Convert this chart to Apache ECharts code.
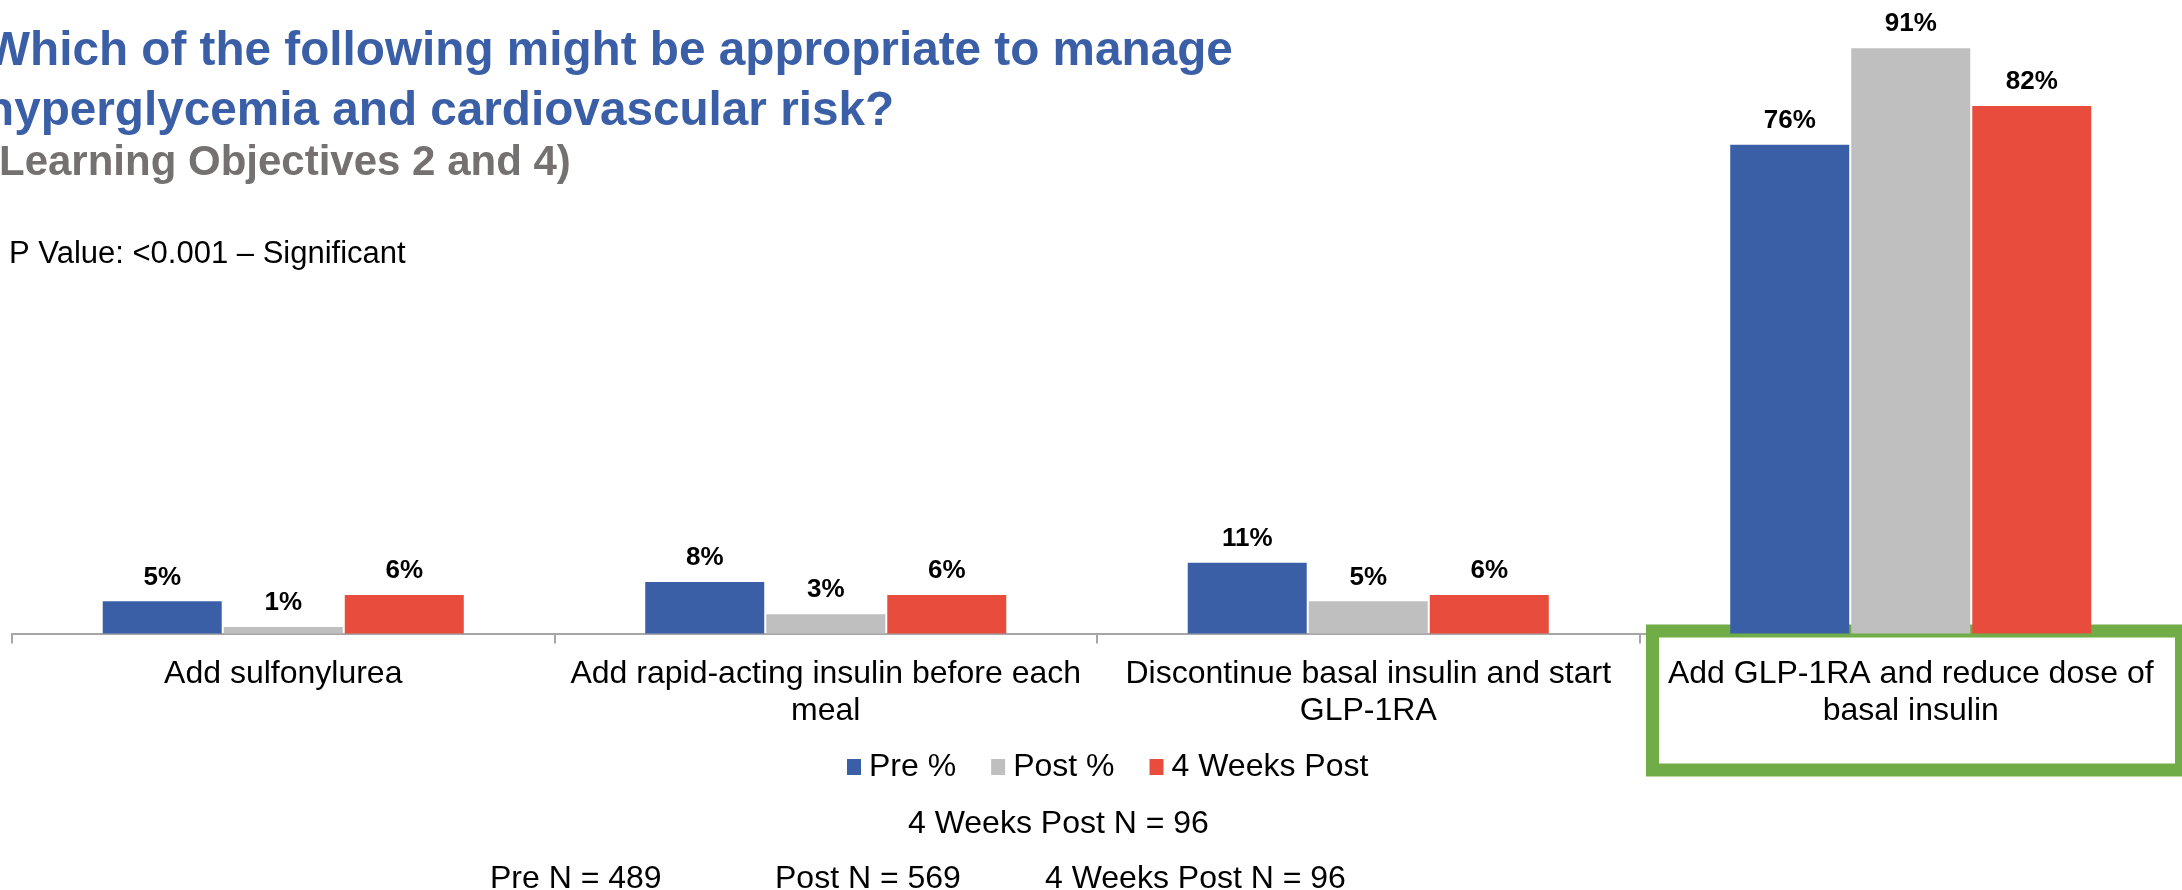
<!DOCTYPE html>
<html>
<head>
<meta charset="utf-8">
<title>Hyperglycemia and cardiovascular risk</title>
<script src="https://cdn.jsdelivr.net/npm/echarts@6/dist/echarts.min.js"></script>
<style>
  html, body { margin: 0; padding: 0; background: #ffffff; }
  #chart { width: 2182px; height: 890px; }
</style>
</head>
<body>
<div id="chart"></div>
<script>
// Answer options and response shares (%)
const categories = [
  'Add sulfonylurea',
  'Add rapid-acting insulin before each\nmeal',
  'Discontinue basal insulin and start\nGLP-1RA',
  'Add GLP-1RA and reduce dose of\nbasal insulin'
];
const seriesNames = ['Pre %', 'Post %', '4 Weeks Post'];
const preValues = [5, 8, 11, 76];
const postValues = [1, 3, 5, 91];
const weeks4Values = [6, 6, 6, 82];
const sampleNotes = ['Pre N = 489', 'Post N = 569', '4 Weeks Post N = 96'];

const FONT = '"Liberation Sans", Arial, sans-serif';
const colors = ['#3A5FA7', '#BFBFBF', '#E84C3D'];

const chart = echarts.init(document.getElementById('chart'), null, { renderer: 'canvas' });

function barSeries(name, data, color) {
  return {
    name: name,
    type: 'bar',
    data: data,
    barWidth: 119,
    barGap: '1.7%',
    itemStyle: { color: color },
    label: {
      show: true,
      position: 'top',
      distance: 11,
      formatter: '{c}%',
      color: '#000000',
      fontFamily: FONT,
      fontWeight: 'bold',
      fontSize: 26
    },
    emphasis: { disabled: true },
    z: 2
  };
}

const noteStyle = { color: '#000000', fontSize: 32, fontWeight: 'normal', fontFamily: FONT };

const option = {
  backgroundColor: '#ffffff',
  animation: false,
  textStyle: { fontFamily: FONT },
  title: [
    {
      text: 'Which of the following might be appropriate to manage\nhyperglycemia and cardiovascular risk?',
      left: -20,
      top: 17,
      textStyle: { color: '#3A5FA7', fontSize: 47.7, fontWeight: 'bold', lineHeight: 60, fontFamily: FONT }
    },
    {
      text: '(Learning Objectives 2 and 4)',
      left: -20,
      top: 137,
      textStyle: { color: '#767171', fontSize: 42, fontWeight: 'bold', fontFamily: FONT }
    },
    {
      text: 'P Value: <0.001 \u2013 Significant',
      left: 4,
      top: 234,
      textStyle: { color: '#000000', fontSize: 31, fontWeight: 'normal', fontFamily: FONT }
    },
    {
      text: '4 Weeks Post N = 96',
      left: 903,
      top: 803,
      textStyle: noteStyle
    },
    { text: sampleNotes[0], left: 485, top: 858, textStyle: noteStyle },
    { text: sampleNotes[1], left: 770, top: 858, textStyle: noteStyle },
    { text: sampleNotes[2], left: 1040, top: 858, textStyle: noteStyle }
  ],
  legend: {
    data: seriesNames,
    left: 842,
    top: 746,
    itemWidth: 14,
    itemHeight: 16,
    itemGap: 35,
    icon: 'rect',
    textStyle: { color: '#000000', fontSize: 32, fontFamily: FONT, padding: [0, 0, 0, 3] },
    selectedMode: false
  },
  grid: { left: 12, right: -6, top: 0, height: 633.5, containLabel: false },
  xAxis: {
    type: 'category',
    data: categories,
    axisLine: { show: true, lineStyle: { color: '#A6A6A6', width: 2 } },
    axisTick: { show: true, length: 10, lineStyle: { color: '#A6A6A6', width: 2 } },
    axisLabel: {
      interval: 0,
      margin: 22,
      color: '#000000',
      fontSize: 32,
      lineHeight: 37,
      fontFamily: FONT
    }
  },
  yAxis: {
    type: 'value',
    min: 0,
    max: 98.5,
    show: false,
    splitLine: { show: false }
  },
  series: [
    barSeries(seriesNames[0], preValues, colors[0]),
    barSeries(seriesNames[1], postValues, colors[1]),
    barSeries(seriesNames[2], weeks4Values, colors[2])
  ],
  graphic: [
    {
      type: 'rect',
      z: 1,
      shape: { x: 1652.5, y: 631, width: 529, height: 139 },
      style: { fill: 'rgba(0,0,0,0)', stroke: '#70AD47', lineWidth: 13 }
    }
  ]
};

chart.setOption(option);
</script>
</body>
</html>
